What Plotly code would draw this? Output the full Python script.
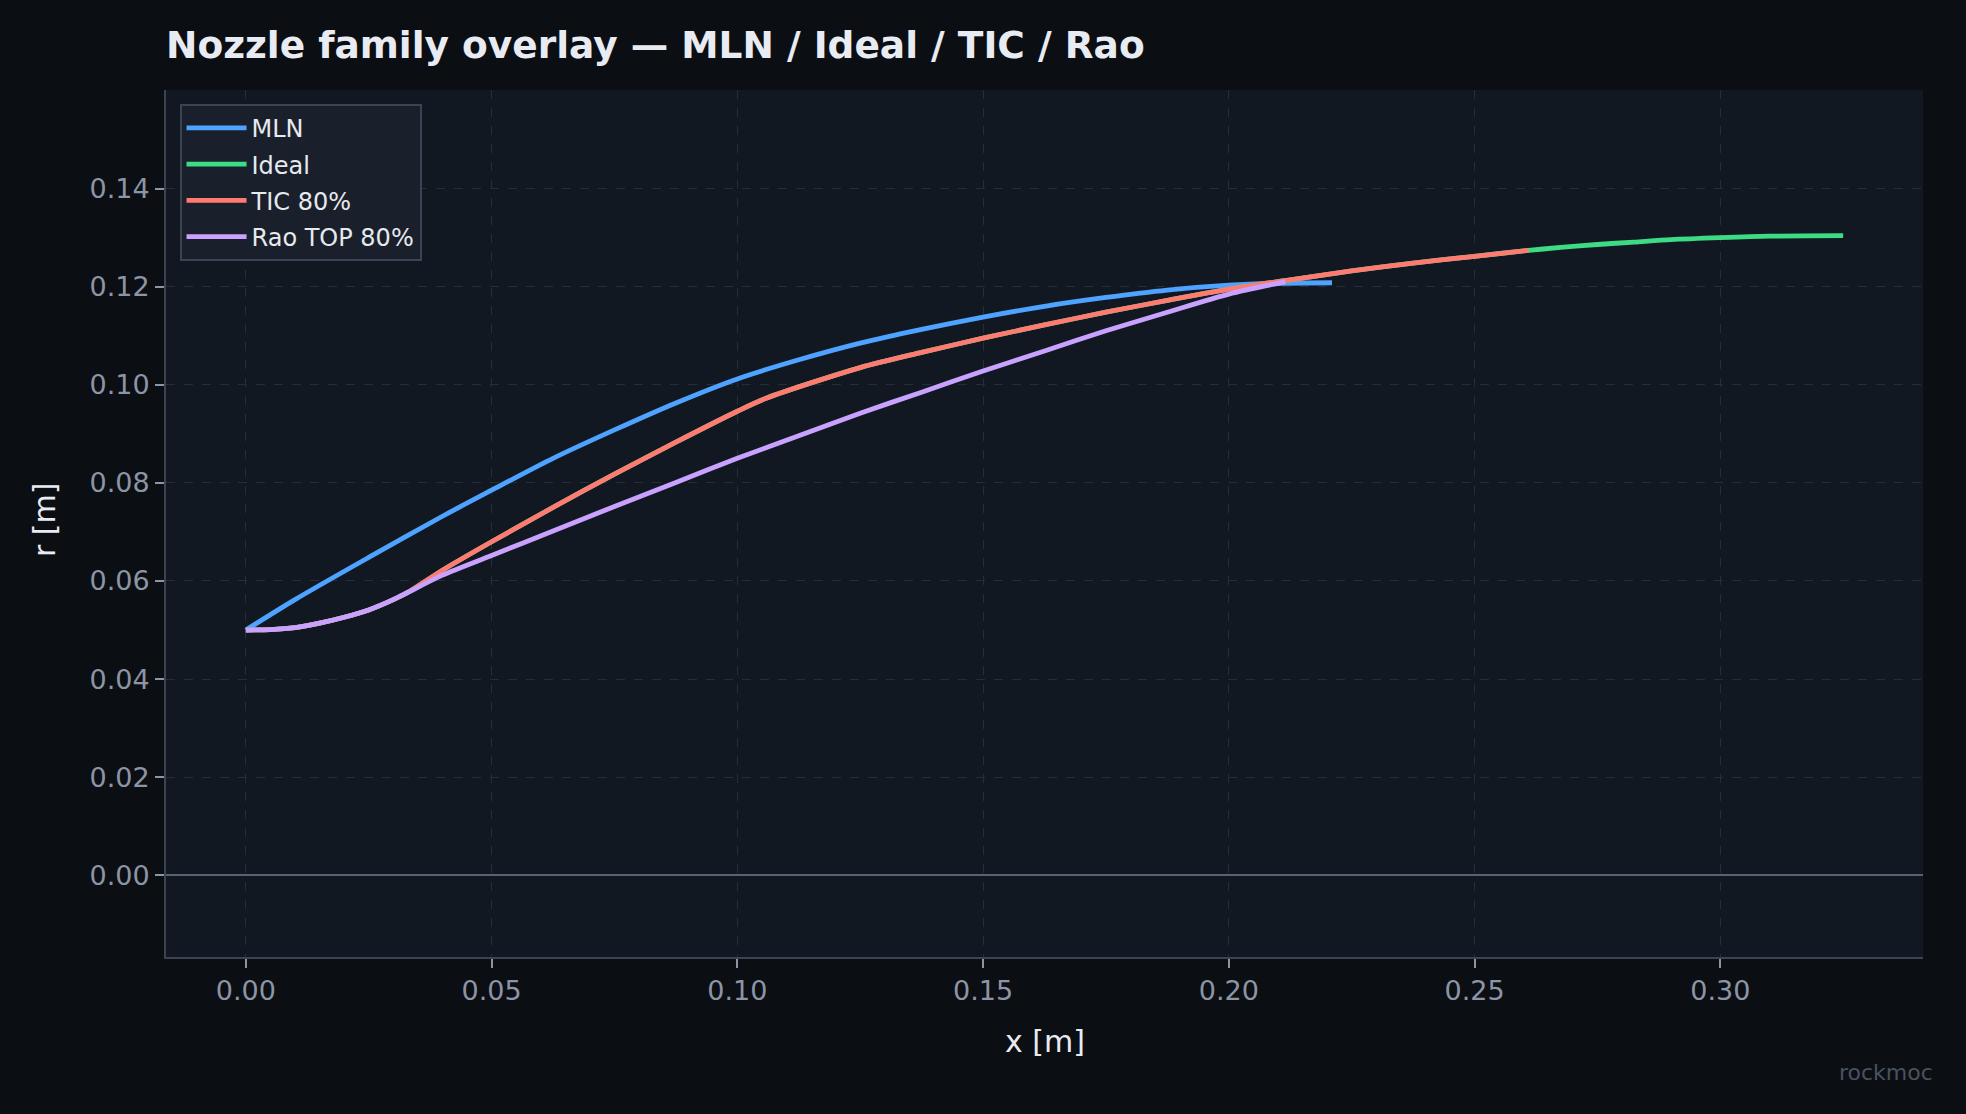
import plotly.graph_objects as go

# ---- data ----
mln_x = [0.0, 0.010, 0.025, 0.040, 0.050, 0.0625, 0.075, 0.0875, 0.100, 0.1125, 0.125,
         0.1375, 0.150, 0.1625, 0.175, 0.1875, 0.200, 0.210, 0.221]
mln_r = [0.0500, 0.0562, 0.0648, 0.0732, 0.0785, 0.0850, 0.0908, 0.0963, 0.1012, 0.1051, 0.1085,
         0.1113, 0.1138, 0.1160, 0.1178, 0.1193, 0.1203, 0.1207, 0.1208]

tic_x = [0.0, 0.005, 0.010, 0.015, 0.020, 0.025, 0.030, 0.033, 0.040, 0.050, 0.0625, 0.075,
         0.0875, 0.100, 0.106, 0.125, 0.1375, 0.150, 0.1625, 0.175, 0.1875, 0.200, 0.2125,
         0.225, 0.2375, 0.250, 0.261]
tic_r = [0.0500, 0.0501, 0.0505, 0.0514, 0.0526, 0.0541, 0.0562, 0.0577, 0.0622, 0.0680, 0.0750, 0.0818,
         0.0883, 0.0946, 0.0973, 0.1035, 0.1066, 0.1095, 0.1122, 0.1148, 0.1172, 0.1195, 0.1214,
         0.1232, 0.1248, 0.1262, 0.1274]

ideal_x = tic_x + [0.2675, 0.275, 0.2825, 0.290, 0.300, 0.310, 0.325]
ideal_r = tic_r + [0.1280, 0.1286, 0.1291, 0.1296, 0.1300, 0.1303, 0.1304]

rao_x = [0.0, 0.005, 0.010, 0.015, 0.020, 0.025, 0.030, 0.033, 0.040, 0.050, 0.0625, 0.075,
         0.0875, 0.100, 0.1125, 0.125, 0.1375, 0.150, 0.1625, 0.175, 0.1875, 0.200, 0.2115]
rao_r = [0.0500, 0.0501, 0.0505, 0.0514, 0.0526, 0.0541, 0.0562, 0.0577, 0.0612, 0.0652, 0.0702, 0.0752,
         0.0801, 0.0850, 0.0896, 0.0942, 0.0985, 0.1028, 0.1069, 0.1110, 0.1148, 0.1185, 0.1210]

x_ticks = [0.00, 0.05, 0.10, 0.15, 0.20, 0.25, 0.30]
y_ticks = [0.00, 0.02, 0.04, 0.06, 0.08, 0.10, 0.12, 0.14]

series = [
    ("MLN", mln_x, mln_r, "#4da3ff"),
    ("Ideal", ideal_x, ideal_r, "#3ddc84"),
    ("TIC 80%", tic_x, tic_r, "#ff7b72"),
    ("Rao TOP 80%", rao_x, rao_r, "#c9a2ff"),
]

FONT = "DejaVu Sans"
fig = go.Figure()
for name, xs, ys, col in series:
    fig.add_trace(go.Scatter(x=xs, y=ys, mode="lines", name=name, legendgroup=name,
                             line=dict(color=col, width=4.8, shape="spline", smoothing=0.8)))

W, H = 1966, 1114
ml, mr, mt, mb = 166, 43, 90, 157

fig.update_layout(
    width=W, height=H,
    paper_bgcolor="#0b0e13",
    plot_bgcolor="#121821",
    margin=dict(l=ml, r=mr, t=mt, b=mb),
    font=dict(family=FONT, color="#8b95a5"),
    title=dict(text="<b>Nozzle family overlay — MLN / Ideal / TIC / Rao</b>",
               x=166 / W, xanchor="left", y=1 - 45 / H, yanchor="middle",
               font=dict(family=FONT, size=37.5, color="#e8ecf2")),
    showlegend=True,
    legend=dict(x=0.0077, y=0.984, xanchor="left", yanchor="top",
                bgcolor="#1a202b", bordercolor="#3a4452", borderwidth=2,
                font=dict(family=FONT, size=24, color="#e6e9ee"),
                tracegroupgap=2, itemwidth=60),
    xaxis=dict(range=[-0.01625, 0.34125], tickvals=x_ticks,
               ticktext=[f"{v:.2f}" for v in x_ticks],
               showgrid=True, gridcolor="#262d3a", griddash="dash", gridwidth=1,
               zeroline=False, showline=True, linecolor="#3b4452", linewidth=2,
               ticks="outside", ticklen=9, tickwidth=1.5, tickcolor="#8b95a5",
               tickfont=dict(family=FONT, size=27, color="#8b95a5")),
    yaxis=dict(range=[-0.01666, 0.1601], tickvals=y_ticks,
               ticktext=[f"{v:.2f}" for v in y_ticks],
               showgrid=True, gridcolor="#262d3a", griddash="dash", gridwidth=1,
               zeroline=True, zerolinecolor="#5a6270", zerolinewidth=2,
               showline=True, linecolor="#3b4452", linewidth=2,
               ticks="outside", ticklen=9, tickwidth=1.5, tickcolor="#8b95a5",
               tickfont=dict(family=FONT, size=27, color="#8b95a5")),
    annotations=[
        dict(text="x [m]", xref="paper", yref="paper", x=0.5, y=1 - (1041 - mt) / (H - mt - mb),
             xanchor="center", yanchor="middle", showarrow=False,
             font=dict(family=FONT, size=30, color="#e8ecf2")),
        dict(text="r [m]", xref="paper", yref="paper", x=(44 - ml) / (W - ml - mr),
             y=1 - (520 - mt) / (H - mt - mb), textangle=-90,
             xanchor="center", yanchor="middle", showarrow=False,
             font=dict(family=FONT, size=30, color="#e8ecf2")),
        dict(text="rockmoc", xref="paper", yref="paper", x=(1935 - ml) / (W - ml - mr),
             y=1 - (1072 - mt) / (H - mt - mb), xanchor="right", yanchor="middle",
             showarrow=False, font=dict(family=FONT, size=22, color="#4a5260")),
    ],
)

fig.write_html("out.html", config={"displayModeBar": False},
               post_script="document.body.style.margin='0';document.body.style.background='#0b0e13';")
